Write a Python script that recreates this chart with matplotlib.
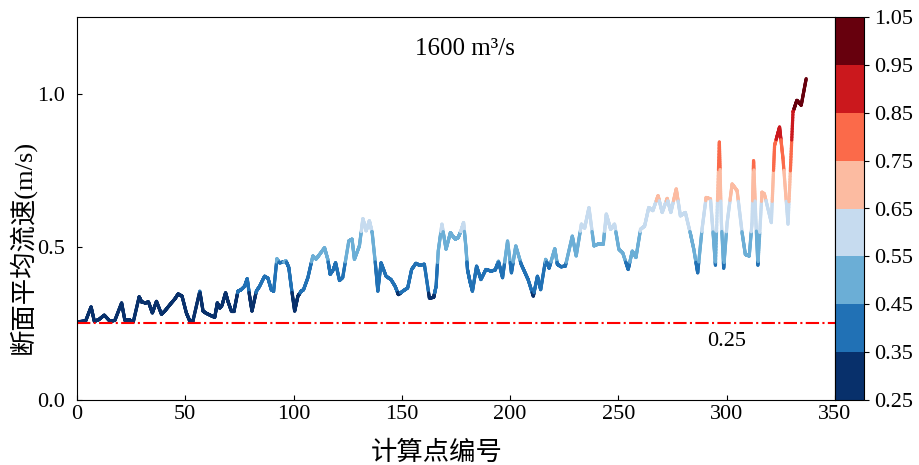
import numpy as np
import matplotlib
matplotlib.use('Agg')
import matplotlib.pyplot as plt
from matplotlib.collections import LineCollection
from matplotlib.colors import ListedColormap, BoundaryNorm

plt.rcParams['font.family'] = ['Liberation Serif', 'Noto Sans CJK SC']

# calculation point number and section-averaged velocity (turning points of the profile)
point_no = [0, 4, 6.5, 8, 10, 12.6, 15.2, 17.5, 20.6, 22.1, 24, 26, 28.7, 29.8, 31.6, 33,
            34.8, 36.7, 39, 40.5, 42.9, 45.2, 46.7, 48.5, 50.5, 52, 53.5, 56.7, 58.2, 59.7,
            62, 63.6, 64.8, 65.9, 67, 68.6, 69.7, 71.3, 72.5, 74.3, 75.8, 77.4, 78.6, 79.7,
            80.8, 82.8, 84.3, 86.6, 88.2, 89.7, 90.8, 92.3, 93.5, 95.5, 96.5, 97.8, 98.9,
            100.5, 102, 103.5, 104.6, 106.6, 108.9, 110.4, 112, 114.3, 115.8, 116.9, 118.4,
            119.4, 121.2, 122.7, 125.5, 127, 128.1, 130.4, 132, 133.5, 135, 136.3, 137.8,
            138.9, 140.4, 142.7, 145, 146.9, 148.4, 150.4, 152.7, 154.5, 156.5, 158.1, 160.4,
            162.7, 164.7, 165.8, 166.8, 168.5, 170.4, 172.4, 173.5, 174.7, 176, 177.3, 178.5,
            179.6, 180.3, 181.4, 182.6, 184.5, 186.5, 188.8, 191.1, 193.1, 194.6, 196.5,
            198.8, 200.6, 202.6, 205.1, 206.9, 208.3, 210.7, 212.6, 214.1, 216.4, 218, 220.6,
            221.8, 223.5, 225.5, 228.7, 230.5, 232.9, 234.4, 236.4, 238.7, 241, 243, 244.4,
            246.4, 248.2, 250.2, 252, 254.5, 256.4, 258.1, 260.2, 262.1, 264, 265.9, 268.3,
            270.2, 272.5, 274.2, 276.7, 278.6, 280.9, 283.3, 284.8, 286.6, 288.6, 290.5,
            292.5, 293.7, 294.8, 296.6, 297.5, 298.6, 300.2, 302.5, 304.8, 307.1, 308.6,
            310.4, 311.7, 312.4, 313.5, 314.4, 316.3, 317.4, 320.6, 322.1, 324.4, 326, 328.3,
            330.6, 332.4, 334.4, 336.7]
velocity = [0.255, 0.258, 0.304, 0.257, 0.262, 0.277, 0.257, 0.26, 0.317, 0.26, 0.262, 0.255,
            0.337, 0.32, 0.317, 0.32, 0.284, 0.322, 0.28, 0.29, 0.311, 0.33, 0.346, 0.339,
            0.284, 0.259, 0.257, 0.355, 0.29, 0.283, 0.275, 0.27, 0.317, 0.30, 0.31, 0.35,
            0.322, 0.29, 0.29, 0.355, 0.36, 0.371, 0.396, 0.339, 0.29, 0.355, 0.371, 0.404,
            0.397, 0.36, 0.355, 0.461, 0.448, 0.45, 0.454, 0.432, 0.371, 0.29, 0.339, 0.355,
            0.36, 0.399, 0.47, 0.46, 0.475, 0.497, 0.459, 0.41, 0.426, 0.448, 0.39, 0.40,
            0.519, 0.525, 0.459, 0.503, 0.592, 0.552, 0.585, 0.546, 0.443, 0.355, 0.448,
            0.404, 0.393, 0.371, 0.344, 0.355, 0.366, 0.426, 0.446, 0.44, 0.443, 0.333,
            0.335, 0.371, 0.486, 0.574, 0.492, 0.546, 0.535, 0.525, 0.53, 0.552, 0.579,
            0.497, 0.426, 0.388, 0.355, 0.437, 0.393, 0.426, 0.421, 0.424, 0.453, 0.399,
            0.519, 0.415, 0.503, 0.443, 0.415, 0.393, 0.339, 0.404, 0.36, 0.459, 0.43, 0.494,
            0.443, 0.435, 0.437, 0.535, 0.47, 0.574, 0.561, 0.628, 0.503, 0.51, 0.508, 0.607,
            0.557, 0.574, 0.492, 0.48, 0.426, 0.486, 0.465, 0.557, 0.568, 0.628, 0.618, 0.667,
            0.612, 0.658, 0.612, 0.689, 0.601, 0.612, 0.541, 0.492, 0.415, 0.557, 0.661,
            0.656, 0.546, 0.44, 0.842, 0.585, 0.43, 0.579, 0.705, 0.683, 0.546, 0.475, 0.47,
            0.579, 0.781, 0.579, 0.44, 0.678, 0.672, 0.579, 0.831, 0.891, 0.787, 0.574, 0.94,
            0.978, 0.962, 1.049]

levels = [0.25, 0.35, 0.45, 0.55, 0.65, 0.75, 0.85, 0.95, 1.05]
colors = ['#08306b', '#2171b5', '#6baed6', '#c6dbef',
          '#fcbba1', '#fb6a4a', '#cb181d', '#67000d']
cmap = ListedColormap(colors)
norm = BoundaryNorm(levels, cmap.N)

# split each straight piece into short bits so the colour follows the value
x = np.asarray(point_no, dtype=float)
y = np.asarray(velocity, dtype=float)
xs, ys = [], []
for i in range(len(x) - 1):
    t = np.linspace(0, 1, 40, endpoint=False)
    xs.append(x[i] + (x[i + 1] - x[i]) * t)
    ys.append(y[i] + (y[i + 1] - y[i]) * t)
xs.append([x[-1]])
ys.append([y[-1]])
xs = np.concatenate(xs)
ys = np.concatenate(ys)
pts = np.array([xs, ys]).T.reshape(-1, 1, 2)
segs = np.concatenate([pts[:-1], pts[1:]], axis=1)
mid = 0.5 * (ys[:-1] + ys[1:])

fig = plt.figure(figsize=(9.19, 4.65), dpi=100)
ax = fig.add_axes([77 / 919, 65 / 465, 758 / 919, 383 / 465])
cax = fig.add_axes([835 / 919, 65 / 465, 29 / 919, 383 / 465])

lc = LineCollection(segs, cmap=cmap, norm=norm, linewidth=2.3, capstyle='round')
lc.set_array(mid)
ax.add_collection(lc)

ax.axhline(0.25, color='#ff0000', linestyle='-.', linewidth=1.5)
ax.text(300, 0.175, '0.25', fontsize=16, ha='center')
ax.text(0.512, 0.9, '1600 m³/s', transform=ax.transAxes, fontsize=18, ha='center')

ax.set_xlim(0, 350)
ax.set_ylim(0, 1.25)
ax.set_xticks(range(0, 351, 50))
ax.set_yticks([0.0, 0.5, 1.0])
ax.set_yticklabels(['0.0', '0.5', '1.0'])
ax.tick_params(labelsize=16, direction='in')
ax.tick_params(axis='y', pad=9)
ax.set_xlabel('计算点编号', fontsize=19)
ax.set_ylabel('断面平均流速(m/s)', fontsize=19)
ax.xaxis.set_label_coords(0.474, -0.105)
ax.yaxis.set_label_coords(-0.055, 0.40)

cb = fig.colorbar(lc, cax=cax, ticks=levels)
cb.ax.set_yticklabels([f'{v:.2f}' for v in levels])
cb.ax.tick_params(labelsize=16)

fig.savefig('out.png', dpi=100)
